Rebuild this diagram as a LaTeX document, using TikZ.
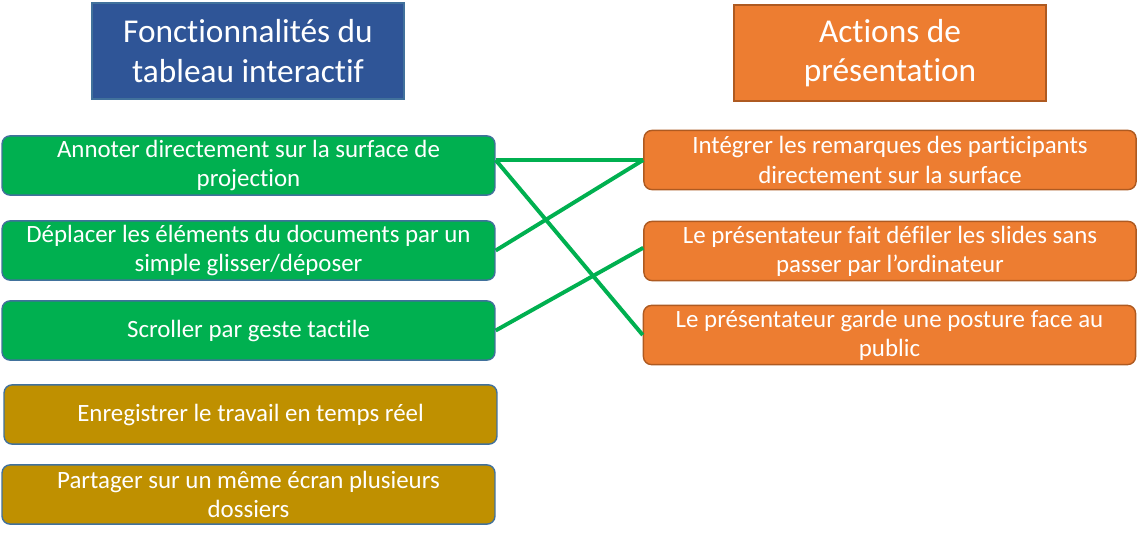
\documentclass[tikz,border=0pt]{standalone}
\usepackage{fontspec}
\setmainfont[Ligatures=NoCommon]{Carlito}
\usetikzlibrary{positioning}

\definecolor{titleblue}{HTML}{2F5597}
\definecolor{boxgreen}{HTML}{00B050}
\definecolor{boxgold}{HTML}{BF9000}
\definecolor{boxorange}{HTML}{ED7D31}
\definecolor{edgeblue}{HTML}{41719C}
\definecolor{edgeorange}{HTML}{AE5A21}

\begin{document}
\begin{tikzpicture}[x=0.025cm,y=-0.025cm,
  titlebox/.style={rectangle,draw,line width=1pt,text=white,align=center,
    minimum width=7.8cm,minimum height=2.4cm,font=\fontsize{23.7}{27.9}\selectfont},
  itembox/.style={rectangle,rounded corners=0.2cm,draw,line width=1pt,text=white,align=center,
    inner sep=0pt,minimum height=1.48cm,font=\fontsize{17.7}{20.8}\selectfont},
  leftbox/.style={itembox,draw=edgeblue,minimum width=12.32cm},
  rightbox/.style={itembox,draw=edgeorange,fill=boxorange,minimum width=12.3cm},
  link/.style={boxgreen,line width=2.8pt}]
\useasboundingbox (0,0) rectangle (1137,541);

% column titles
\node[titlebox,fill=titleblue,draw=edgeblue] (tleft) at (248,51) {Fonctionnalités du\\tableau interactif};
\node[titlebox,fill=boxorange,draw=edgeorange] (tright) at (890,53) {Actions de\\présentation};

% left column
\node[leftbox,fill=boxgreen] (annoter) at (248.5,165.5) {Annoter directement sur la surface de\\projection};
\node[leftbox,fill=boxgreen] (deplacer) at (248.5,250.5) {Déplacer les éléments du documents par un\\simple glisser/déposer};
\node[leftbox,fill=boxgreen] (scroller) at (248.5,330.5) {Scroller par geste tactile};
\node[leftbox,fill=boxgold] (enreg) at (250.5,414.5) {Enregistrer le travail en temps réel};
\node[leftbox,fill=boxgold] (partager) at (248.5,494.5) {Partager sur un même écran plusieurs\\dossiers};

% right column
\node[rightbox] (integrer) at (890,160) {Intégrer les remarques des participants\\directement sur la surface};
\node[rightbox] (defiler) at (890,251) {Le présentateur fait défiler les slides sans\\passer par l’ordinateur};
\node[rightbox] (posture) at (889.5,335) {Le présentateur garde une posture face au\\public};

% links
\coordinate (annout) at (annoter.east |- integrer.west);
\draw[link] (annout) -- (integrer.west);
\draw[link] (annout) -- (posture.west);
\draw[link] (deplacer.east) -- (integrer.west);
\draw[link] (scroller.east) -- ([yshift=0.08cm]defiler.west);

\end{tikzpicture}
\end{document}
